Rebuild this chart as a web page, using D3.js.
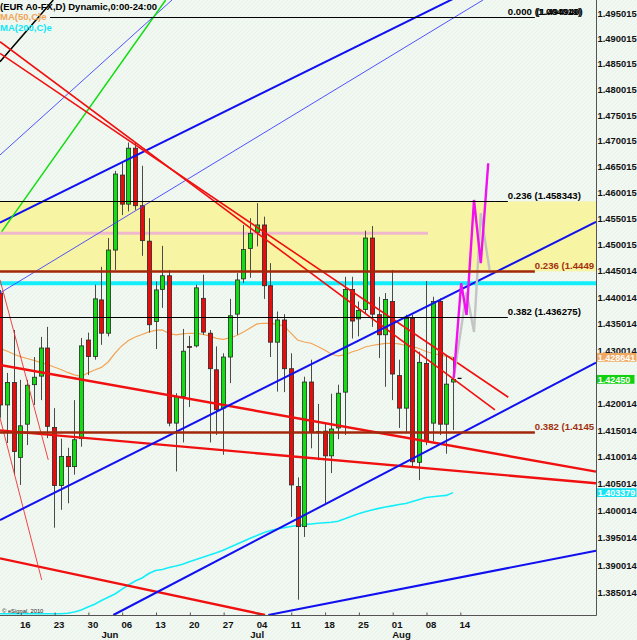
<!DOCTYPE html>
<html><head><meta charset="utf-8">
<script src="https://cdn.jsdelivr.net/npm/d3@7"></script>
<style>html,body{margin:0;padding:0;background:#f1f7f1;}svg{display:block;}</style>
</head><body><svg id="c" width="637" height="640"></svg>
<script>
// ---------- DATA ----------
const firstDate = "2010-05-11";
const lastFutureDate = "2010-09-20";
const openV  = [1.4408,1.4197,1.4239,1.4099,1.4161,1.4235,1.4251,1.4304,1.4155,1.4047,1.4101,1.4082,1.4134,1.4319,1.4288,1.4395,1.4332,1.4490,1.4634,1.4578,1.4686,1.4575,1.4507,1.4354,1.4415,1.4441,1.4163,1.4213,1.4307,1.4308,1.4398,1.4332,1.4263,1.4191,1.4287,1.4368,1.4435,1.4493,1.4524,1.4538,1.4422,1.4315,1.4357,1.4265,1.4045,1.3971,1.4240,1.41471,1.4148,1.4102,1.4154,1.4221,1.4415,1.4359,1.4377,1.4513,1.4367,1.4329,1.4392,1.4252,1.4191,1.4360,1.4090,1.4275,1.4163,1.4392,1.4161,1.4240];
const highV  = [1.4414,1.4257,1.4338,1.4244,1.4244,1.4287,1.4325,1.4344,1.4191,1.4134,1.4117,1.4206,1.4323,1.4333,1.4424,1.4458,1.4513,1.4642,1.4657,1.4697,1.4696,1.4652,1.4551,1.4430,1.4498,1.4452,1.4219,1.4340,1.4327,1.4424,1.4443,1.4338,1.4307,1.4294,1.4397,1.4446,1.4538,1.4551,1.4580,1.4554,1.4465,1.4373,1.4368,1.4294,1.4062,1.4250,1.4282,1.4199,1.4163,1.4218,1.4235,1.4439,1.4439,1.4392,1.4527,1.4536,1.4401,1.4408,1.4452,1.4282,1.4367,1.4367,1.4297,1.4431,1.4401,1.4398,1.4291,1.4287];
const lowV   = [1.4173,1.4126,1.4067,1.4048,1.4122,1.4197,1.4206,1.4135,1.3969,1.4002,1.4014,1.4067,1.4119,1.4253,1.4282,1.4310,1.4326,1.4452,1.4557,1.4564,1.4567,1.4479,1.4333,1.4302,1.4380,1.4157,1.4073,1.4127,1.4193,1.4305,1.4329,1.4127,1.4141,1.4104,1.4238,1.4329,1.4427,1.4437,1.4497,1.4397,1.4287,1.4222,1.4221,1.3989,1.3837,1.3952,1.4116,1.4094,1.4014,1.4070,1.4133,1.4141,1.4322,1.4326,1.4370,1.4344,1.4285,1.4231,1.4206,1.4154,1.4144,1.4080,1.4057,1.4122,1.4129,1.4141,1.4106,1.4150];
const closeV = [1.4197,1.4239,1.4110,1.4158,1.4234,1.4249,1.4304,1.4157,1.4047,1.4101,1.4082,1.4132,1.4308,1.4288,1.4397,1.4332,1.4490,1.4636,1.4578,1.4686,1.4575,1.4508,1.4348,1.4414,1.4441,1.4163,1.4213,1.4298,1.4306,1.4418,1.4334,1.4265,1.4188,1.4287,1.4365,1.4433,1.4491,1.4522,1.4538,1.4422,1.4315,1.4357,1.4265,1.4048,1.3971,1.4240,1.4146,1.41466,1.4102,1.4152,1.4219,1.4415,1.4355,1.4375,1.4513,1.4368,1.4329,1.4396,1.4255,1.4191,1.4360,1.4091,1.4277,1.4130,1.4392,1.4161,1.4236,1.4245];
const ma50V  = [1.43035,1.42984,1.42928,1.42877,1.42843,1.42806,1.42768,1.42730,1.42683,1.42636,1.42580,1.42533,1.42505,1.42571,1.42627,1.42674,1.42777,1.42941,1.43079,1.43183,1.43249,1.43296,1.43344,1.43372,1.43381,1.43315,1.43287,1.43306,1.43319,1.43315,1.43296,1.43268,1.43221,1.43202,1.43230,1.43277,1.43344,1.43419,1.43495,1.43508,1.43504,1.43486,1.43457,1.43325,1.43192,1.43154,1.43130,1.43069,1.43003,1.42928,1.42890,1.42909,1.42965,1.43003,1.43060,1.43088,1.43107,1.43126,1.43130,1.43117,1.43088,1.43065,1.43031,1.42975,1.42937,1.42909,1.42881,1.428641];
const ma200V = [1.3808,1.3808,1.3808,1.3808,1.3808,1.3808,1.3808,1.3808,1.3808,1.38104,1.38124,1.38144,1.38182,1.38237,1.38288,1.38356,1.38414,1.38475,1.38557,1.38639,1.38712,1.38767,1.38849,1.38904,1.38923,1.38959,1.38987,1.39018,1.39063,1.39105,1.39146,1.39188,1.39228,1.39274,1.39329,1.39384,1.39439,1.39494,1.39546,1.39598,1.39638,1.39666,1.39690,1.39712,1.39730,1.39747,1.39758,1.39771,1.39782,1.39791,1.39808,1.39856,1.39900,1.39946,1.39983,1.40016,1.40047,1.40071,1.40093,1.40117,1.40137,1.40172,1.40209,1.40247,1.40261,1.40274,1.40287,1.403379];

const yTickLabels = ["1.495015","1.490015","1.485015","1.480015","1.475015","1.470015","1.465015","1.460015","1.455015","1.450015","1.445014","1.440014","1.435014","1.430014","1.420014","1.415014","1.410014","1.405014","1.400014","1.395014","1.390014","1.385014"];
const weekTickDates  = ["2010-05-14","2010-05-21","2010-05-28","2010-06-04","2010-06-11","2010-06-18","2010-06-25","2010-07-02","2010-07-09","2010-07-16","2010-07-23","2010-07-30","2010-08-06","2010-08-13"];
const weekTickLabels = ["16","23","30","06","13","20","27","04","11","18","25","01","08","14"];
const monthLabels = ["Jun","Jul","Aug"];
const monthLabelDates = ["2010-06-01","2010-07-01","2010-07-30"];

// Fibonacci levels (labels of the two right-hand ones are cut by the price axis in the original)
const fibValues = [1.49417, 1.458343, 1.436275, 1.444932, 1.414553];
const fibLabels = ["0.000", "0.236 (1.458343)", "0.382 (1.436275)", "0.236 (1.4449", "0.382 (1.4145"];
const fibTopOverprint = ["(1.004019)", "(1.494940)"];
const fibEndIdx = [79.1, 75.1, 75.1, 79.1, 79.1];
const fibStartIdx = [7.4, 0, 0, 0, 0];
const zoneTop = 1.458343, zoneBottom = 1.444932;
const pinkLevel = 1.45221, pinkEndIdx = 63.3;
const cyanLevel = 1.44267;

// Trendlines: [idx, value] pairs
const trendIdx1 = [0, 0, 0, 0.25, 0, 0, 0, 0, 0, 0, 0, 0, 0, 16.76, 39.68];
const trendVal1 = [1.45425,1.44082,1.46728,1.45252,1.48545,1.48937,1.48709,1.42721,1.41494,1.39127,1.44330,1.41727,1.39832,1.38091,1.38091];
const trendIdx2 = [67, 71.43, 25.44, 24.5, 7.88, 73.2, 75.17, 88.14, 88.14, 39.19, 7.14, 6.17, 88.14, 88.14, 88.14];
const trendVal2 = [1.49780,1.49758,1.49758,1.49758,1.49758,1.41876,1.42114,1.40726,1.40511,1.38091,1.40944,1.38731,1.45438,1.42764,1.39266];
const trendKind = ["blueThick","blueThin","blueThin","green","black","redMid","redMid","redThick","redThick","redThick","redThin","redThin","blueThick","blueThick","blueThick"];

// Projection paths
const magIdx = [67.1, 68.2, 69.0, 70.1, 71.1, 72.2];
const magVal = [1.42477, 1.44267, 1.43665, 1.45860, 1.44648, 1.46568];
const grayIdx = [67.1, 69.0, 70.1, 71.1, 72.4];
const grayVal = [1.42477, 1.44101, 1.43344, 1.45605, 1.44520];

// ---------- CHART ----------
const styles = {
  blueThick:{c:"#1010f0",w:2}, blueThin:{c:"#4040ff",w:0.9}, green:{c:"#10dd10",w:1.5},
  black:{c:"#000",w:1.5}, redMid:{c:"#f01010",w:1.6}, redThick:{c:"#f01010",w:2.4}, redThin:{c:"#f03030",w:0.9}
};
const svg = d3.select("#c");
const plotR = 596.5, plotB = 615.5;
const parse = d3.timeParse("%Y-%m-%d"), fmt = d3.timeFormat("%Y-%m-%d");
const dates = d3.timeDay.range(parse(firstDate), parse(lastFutureDate)).filter(d => d.getDay() !== 0 && d.getDay() !== 6);
const idxOf = s => dates.findIndex(d => fmt(d) === s);

const x = d3.scaleLinear().domain([0, 88.14]).range([0, 596]);
const y = d3.scaleLog().domain([1.385014, 1.495015]).range([592.5, 13]);

const defs = svg.append("defs");
const pat = defs.append("pattern").attr("id","hatch").attr("width",4).attr("height",4).attr("patternUnits","userSpaceOnUse");
pat.append("rect").attr("width",4).attr("height",4).attr("fill","#f1f8f1");
pat.append("path").attr("d","M0,4 L4,0").attr("stroke","#e8f1e8").attr("stroke-width",0.8);
svg.append("rect").attr("width",637).attr("height",640).attr("fill","url(#hatch)");
defs.append("clipPath").attr("id","plot").append("rect").attr("x",0).attr("y",0).attr("width",plotR).attr("height",plotB);

const g = svg.append("g").attr("clip-path","url(#plot)");

g.append("rect").attr("x",0).attr("width",plotR).attr("y",y(zoneTop)).attr("height",y(zoneBottom)-y(zoneTop)).attr("fill","#f7f4a3");
g.append("line").attr("x1",0).attr("x2",x(pinkEndIdx)).attr("y1",y(pinkLevel)).attr("y2",y(pinkLevel)).attr("stroke","#f0b8cc").attr("stroke-width",3);
g.append("line").attr("x1",0).attr("x2",plotR).attr("y1",y(cyanLevel)).attr("y2",y(cyanLevel)).attr("stroke","#12eefc").attr("stroke-width",4);

const fibColor = ["#000","#000","#000","#a3270a","#a3270a"];
const fibW = [1,1.2,1.2,2.6,2.6];
fibValues.forEach((v,i)=>{
  svg.append("line").attr("x1",x(fibStartIdx[i])).attr("x2",x(fibEndIdx[i])).attr("y1",Math.round(y(v))+0.5).attr("y2",Math.round(y(v))+0.5)
    .attr("stroke",fibColor[i]).attr("stroke-width",fibW[i]);
});

const line = d3.line().x((d,i)=>x(i)).y(d=>y(d));
g.append("path").attr("d",line(ma50V)).attr("fill","none").attr("stroke","#f2a457").attr("stroke-width",1.2);
g.append("path").attr("d",d3.line().x((d,i)=>x(i)).y(d=>Math.min(y(d),613.8))(ma200V)).attr("fill","none").attr("stroke","#14eefa").attr("stroke-width",1.6);

const candles = g.append("g");
const bw = 4.2;
openV.forEach((o,i)=>{
  const c = closeV[i], cx = Math.round(x(i))+0.5;
  candles.append("line").attr("x1",cx).attr("x2",cx).attr("y1",y(highV[i])).attr("y2",y(lowV[i])).attr("stroke","#4a4a4a").attr("stroke-width",1);
  const top = y(Math.max(o,c)), bot = y(Math.min(o,c));
  candles.append("rect").attr("x",cx-bw/2).attr("width",bw).attr("y",top).attr("height",Math.max(1,bot-top))
    .attr("fill", c>=o ? "#12dc12" : "#e80c0c").attr("stroke","#2a2a2a").attr("stroke-width",0.8);
});
const last = closeV.length-1;
svg.append("line").attr("x1",x(last)+4.5).attr("x2",x(last)+8.5).attr("y1",y(closeV[last])-1).attr("y2",y(closeV[last])-1).attr("stroke","#000").attr("stroke-width",1.2);

trendKind.forEach((k,i)=>{
  g.append("line").attr("x1",x(trendIdx1[i])).attr("y1",y(trendVal1[i])).attr("x2",x(trendIdx2[i])).attr("y2",y(trendVal2[i]))
    .attr("stroke",styles[k].c).attr("stroke-width",styles[k].w);
});

const pline = d3.line().x(d=>x(d[0])).y(d=>y(d[1]));
g.append("path").attr("d",pline(grayIdx.map((d,i)=>[d,grayVal[i]]))).attr("fill","none").attr("stroke","#c4c4c4").attr("stroke-width",2.4);
g.append("path").attr("d",pline(magIdx.map((d,i)=>[d,magVal[i]]))).attr("fill","none").attr("stroke","#f010f0").attr("stroke-width",2.4);

const font = "'Liberation Sans', Arial, sans-serif";
const fibText = svg.append("g").attr("clip-path","url(#plot)").style("font-family",font).style("font-size","9.6px").style("font-weight","bold");
fibValues.forEach((v,i)=>{
  const tx = i===0 ? x(75.1) : x(fibEndIdx[i]);
  fibText.append("text").attr("x",tx).attr("y",y(v)-2).attr("fill",fibColor[i]==="#000"?"#000":"#a3300f").text(fibLabels[i]);
});
// over-printed price text of the 0.000 level (two labels drawn on top of each other in the original)
const op = fibText.append("text").attr("x",x(79.1)).attr("y",y(fibValues[0])-2).attr("fill","#000");
op.append("tspan").text(fibTopOverprint[0]);
op.append("tspan").attr("dx",-45).text(fibTopOverprint[1]);

svg.append("line").attr("x1",plotR).attr("x2",plotR).attr("y1",0).attr("y2",plotB).attr("stroke","#555").attr("stroke-width",1);
svg.append("line").attr("x1",0).attr("x2",plotR).attr("y1",plotB).attr("y2",plotB).attr("stroke","#555").attr("stroke-width",1);

const yTickVals = yTickLabels.map(Number);
const ya = d3.axisRight(y).tickValues(yTickVals).tickFormat((d,i)=>yTickLabels[i]).tickSize(0).tickPadding(1);
const yg = svg.append("g").attr("transform",`translate(${plotR},0)`).call(ya);
yg.select(".domain").remove();
yg.selectAll("text").style("font-family",font).style("font-size","9.4px").style("font-weight","bold").attr("fill","#111");

const wkIdx = weekTickDates.map(idxOf);
const xa = d3.axisBottom(x).tickValues(wkIdx).tickFormat((d,i)=>weekTickLabels[i]).tickSizeInner(-3).tickSizeOuter(0).tickPadding(6);
const xg = svg.append("g").attr("transform",`translate(0.5,${plotB})`).call(xa);
xg.select(".domain").remove();
xg.selectAll("line").attr("stroke","#555");
xg.selectAll("text").attr("dx",4).style("font-family",font).style("font-size","9.6px").style("font-weight","bold").attr("fill","#111");
monthLabels.forEach((m,i)=>{
  svg.append("text").attr("x",x(idxOf(monthLabelDates[i]))).attr("y",638).text(m)
    .style("font-family",font).style("font-size","9.6px").style("font-weight","bold").attr("fill","#111");
});

function box(v, label, col){
  const yy = y(v);
  svg.append("rect").attr("x",plotR+0.5).attr("y",yy-4.4).attr("width",label.length>7?39.5:37.5).attr("height",8.8).attr("fill",col);
  svg.append("text").attr("x",plotR+1.2).attr("y",yy+3.2).text(label).attr("fill","#fff")
    .style("font-family",font).style("font-size","9px").style("font-weight","bold");
}
box(ma50V[ma50V.length-1], "1.428641", "#f2a860");
box(closeV[last], "1.42450", "#10d010");
box(ma200V[ma200V.length-1], "1.403379", "#16e6f4");

const tg = svg.append("g").style("font-family",font).style("font-size","9.5px").style("font-weight","bold");
tg.append("text").attr("x",0).attr("y",10).attr("fill","#000").text("(EUR A0-FX,D) Dynamic,0:00-24:00");
tg.append("text").attr("x",0).attr("y",19.5).attr("fill","#f2a457").text("MA(50,C)e");
tg.append("text").attr("x",0).attr("y",31).attr("fill","#12e6f6").text("MA(200,C)e");
svg.append("text").attr("x",2).attr("y",613).text("© eSignal, 2010").style("font-family",font).style("font-size","5.8px").attr("fill","#222");
</script></body></html>
